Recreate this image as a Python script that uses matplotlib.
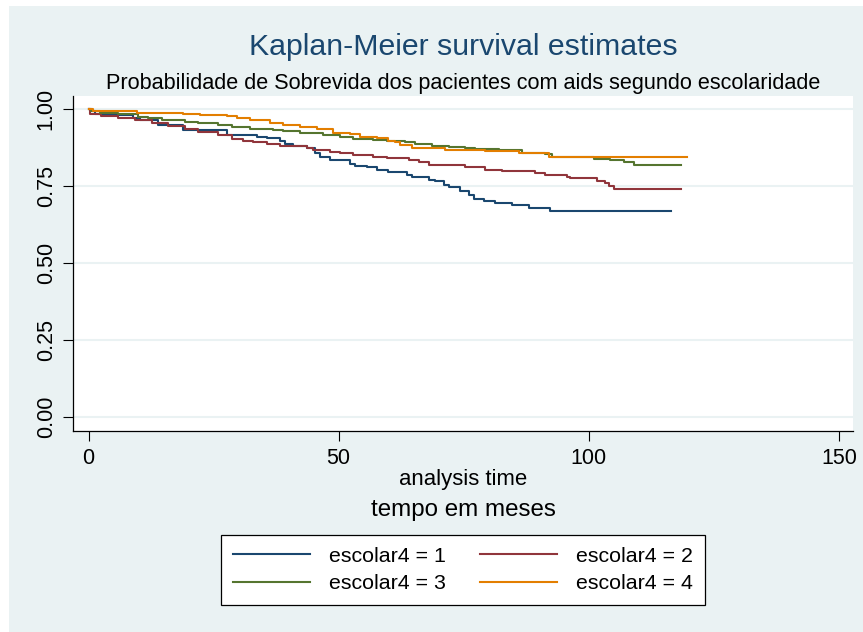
import matplotlib.pyplot as plt
from matplotlib.patches import Rectangle

# Kaplan-Meier estimates (time in months, survival)
t1 = [0, 0.7, 1.3, 2.5, 8.9, 10.2, 13.9, 18.9, 27.6, 33.6, 35.6, 38.3, 39.3, 40.9,
      43.7, 45.3, 46.3, 48.3, 52.3, 53.3, 55.7, 57.7, 59.9, 63.6, 64.6, 68.0, 69.3,
      71.0, 72.0, 74.3, 76.0, 77.0, 79.0, 81.3, 84.7, 88.0, 92.3, 116.4]
s1 = [1.000, 0.993, 0.986, 0.981, 0.973, 0.965, 0.948, 0.933, 0.917, 0.910, 0.905,
      0.895, 0.886, 0.879, 0.873, 0.856, 0.846, 0.834, 0.821, 0.816, 0.811, 0.803,
      0.797, 0.787, 0.778, 0.770, 0.765, 0.754, 0.746, 0.735, 0.722, 0.708, 0.702,
      0.696, 0.689, 0.679, 0.668, 0.668]

t2 = [0, 0.2, 2.5, 5.9, 9.2, 12.6, 15.9, 19.2, 21.9, 25.9, 28.6, 30.9, 32.9, 35.6,
      38.3, 43.6, 44.9, 48.3, 50.3, 52.9, 56.9, 59.6, 64.0, 66.0, 68.0, 75.3, 79.3,
      82.7, 89.3, 91.3, 95.7, 96.3, 101.7, 103.3, 104.0, 105.0, 118.4]
s2 = [1.000, 0.984, 0.978, 0.973, 0.964, 0.954, 0.944, 0.935, 0.926, 0.917, 0.903,
      0.897, 0.892, 0.886, 0.879, 0.873, 0.868, 0.861, 0.856, 0.851, 0.846, 0.841,
      0.834, 0.827, 0.819, 0.813, 0.803, 0.798, 0.792, 0.786, 0.778, 0.775, 0.767,
      0.759, 0.749, 0.741, 0.741]

t3 = [0, 0.5, 2.2, 5.9, 9.9, 11.9, 14.6, 19.2, 21.9, 25.9, 28.6, 32.2, 36.9, 38.9,
      42.3, 46.9, 50.3, 52.9, 56.9, 59.6, 63.3, 65.3, 68.6, 72.0, 75.3, 77.3, 82.0,
      86.7, 91.3, 92.7, 101.0, 104.3, 107.0, 109.0, 118.4]
s3 = [1.000, 0.994, 0.987, 0.984, 0.976, 0.970, 0.964, 0.960, 0.955, 0.949, 0.943,
      0.936, 0.933, 0.928, 0.921, 0.915, 0.908, 0.904, 0.900, 0.897, 0.892, 0.886,
      0.881, 0.878, 0.874, 0.871, 0.867, 0.859, 0.854, 0.846, 0.839, 0.835, 0.828,
      0.817, 0.817]

t4 = [0, 0.9, 9.6, 18.9, 22.2, 27.6, 29.6, 32.2, 36.3, 38.9, 42.3, 45.6, 48.9, 52.3,
      54.3, 57.6, 59.9, 61.3, 62.3, 64.6, 71.3, 79.3, 86.0, 92.0, 119.7]
s4 = [1.000, 0.994, 0.989, 0.985, 0.981, 0.978, 0.971, 0.965, 0.954, 0.949, 0.941,
      0.935, 0.924, 0.919, 0.911, 0.906, 0.895, 0.892, 0.883, 0.873, 0.868, 0.865,
      0.856, 0.846, 0.846]

labels = ['escolar4 = 1', 'escolar4 = 2', 'escolar4 = 3', 'escolar4 = 4']
colors = ['#1a476f', '#90353b', '#55752f', '#e37e00']
xticks = [0, 50, 100, 150]
yticks = [0, 0.25, 0.5, 0.75, 1.0]

bg = '#eaf2f3'
plt.rcParams['font.family'] = ['Liberation Sans', 'DejaVu Sans']

fig = plt.figure(figsize=(8.63, 6.32), dpi=100, facecolor='white')
fig.patches.append(Rectangle((9 / 863, 0), 1, 1 - 6 / 632, transform=fig.transFigure,
                             facecolor=bg, edgecolor='none', zorder=-10))
ax = fig.add_axes([73.3 / 863, 1 - 431 / 632, (853 - 73.3) / 863, (431 - 96) / 632])
ax.set_facecolor('white')

lines = []
for t, s, c, lab in zip([t1, t2, t3, t4], [s1, s2, s3, s4], colors, labels):
    ln, = ax.step(t, s, where='post', color=c, lw=1.5, label=lab)
    lines.append(ln)

ax.set_xlim(-3.04, 152.8)
ax.set_ylim(-0.047, 1.043)
ax.set_xticks(xticks)
ax.set_xticklabels([str(x) for x in xticks], fontsize=15.5)
ax.set_yticks(yticks)
ax.set_yticklabels(['%.2f' % y for y in yticks], fontsize=15.5, rotation=90, va='center')
ax.tick_params(length=7, width=0.8, color='black')
ax.tick_params(axis='x', pad=5)
ax.tick_params(axis='y', pad=5)
ax.grid(axis='y', color=bg, lw=1.5)
ax.set_axisbelow(True)
for side in ['top', 'right']:
    ax.spines[side].set_visible(False)
for side in ['left', 'bottom']:
    ax.spines[side].set_linewidth(0.9)

cx = 463 / 863
fig.text(cx, 1 - 47 / 632, 'Kaplan-Meier survival estimates', ha='center', va='center',
         fontsize=21.8, color='#1a476f')
fig.text(cx, 1 - 83 / 632,
         'Probabilidade de Sobrevida dos pacientes com aids segundo escolaridade',
         ha='center', va='center', fontsize=15.6)
fig.text(cx, 1 - 480 / 632, 'analysis time', ha='center', va='center', fontsize=15.9)
fig.text(cx, 1 - 510 / 632, 'tempo em meses', ha='center', va='center', fontsize=17.4)

# row order 1,2 / 3,4 (matplotlib fills columns first)
leg = fig.legend(handles=[lines[0], lines[2], lines[1], lines[3]], ncol=2,
                 loc='center', bbox_to_anchor=(cx, 1 - 570 / 632),
                 fontsize=15.4, frameon=True, fancybox=False, framealpha=1,
                 facecolor='white', handlelength=3.6,
                 columnspacing=1.6, handletextpad=0.9, borderpad=0.55, labelspacing=0.38,
                 borderaxespad=0)
leg.get_frame().set_edgecolor('black')
leg.get_frame().set_linewidth(0.9)

fig.savefig('out.png', dpi=100, facecolor=fig.get_facecolor())
